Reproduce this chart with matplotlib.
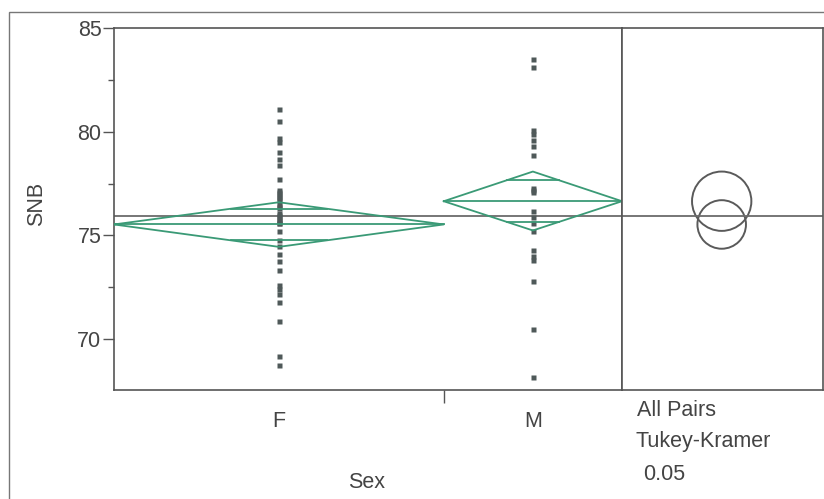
import numpy as np
import matplotlib.pyplot as plt
from matplotlib.patches import Circle, Rectangle

plt.rcParams['font.family'] = ['Liberation Sans', 'DejaVu Sans']

# values
groups = ['F', 'M']
f_snb = [81.1, 80.5, 79.7, 79.5, 79.0, 78.7, 78.4, 77.7,
         77.2, 77.1, 77.0, 76.9, 76.8, 76.7, 76.5, 76.4, 76.3, 76.1, 76.0, 75.9, 75.8, 75.7, 75.6, 75.6,
         75.2, 74.8, 74.5, 74.1, 73.75, 73.35, 72.6, 72.4, 72.2, 71.8, 70.9, 69.2, 68.75]
m_snb = [83.5, 83.1, 80.1, 79.9, 79.6, 79.3, 78.9, 77.3, 77.2, 77.1,
         76.2, 75.9, 75.6, 75.2, 74.3, 74.0, 73.8, 72.8, 70.5, 68.2]
group_mean = [75.53, 76.65]
ci_low = [74.45, 75.24]
ci_high = [76.60, 78.08]
grand_mean = 75.93
circle_radius = [1.17, 1.43]
test_text = ['All Pairs', 'Tukey-Kramer', '0.05']

line_col = '#555555'
diam_col = '#3a9a76'
pt_col = '#4f5959'
txt_col = '#444444'
fs = 15.5

fig = plt.figure(figsize=(8.24, 4.99), dpi=100)
W, H = 824, 499
ax = fig.add_axes([114 / W, 1 - 390 / H, (622 - 114) / W, 362 / H])
ax2 = fig.add_axes([622 / W, 1 - 390 / H, (823 - 622) / W, 362 / H])

ylo, yhi = 67.55, 85.0
data = [f_snb, m_snb]
counts = [len(d) for d in data]
edges = np.concatenate([[0], np.cumsum(counts)])

for i, vals in enumerate(data):
    x0, x1 = edges[i], edges[i + 1]
    xc = (x0 + x1) / 2
    half = (x1 - x0) / 2
    ax.plot([xc] * len(vals), vals, 's', ms=3.6, color=pt_col, mec='none', zorder=2)
    m, lo, hi = group_mean[i], ci_low[i], ci_high[i]
    ax.plot([x0, xc, x1, xc, x0], [m, hi, m, lo, m], color=diam_col, lw=1.3, zorder=3)
    ax.plot([x0, x1], [m, m], color=diam_col, lw=1.3, zorder=3)
    # overlap marks
    d = (hi - m) / np.sqrt(2)
    w = half * (1 - 1 / np.sqrt(2))
    for yy in (m + d, m - d):
        ax.plot([xc - w, xc + w], [yy, yy], color=diam_col, lw=1.3, zorder=3)

ax.axhline(grand_mean, color='#6b6b6b', lw=1.3, zorder=1)
ax.set_xlim(0, edges[-1])
ax.set_ylim(ylo, yhi)

ax.set_yticks([70, 75, 80, 85])
ax.set_yticks([72.5, 77.5, 82.5], minor=True)
ax.tick_params(axis='y', which='major', length=8, width=1, color=line_col,
               labelsize=fs, labelcolor=txt_col, pad=1)
ax.tick_params(axis='y', which='minor', length=4.5, width=1, color=line_col)
ax.set_xticks([edges[1]])
ax.set_xticklabels([''])
ax.set_xticks((edges[:-1] + edges[1:]) / 2, minor=True)
ax.set_xticklabels(groups, minor=True)
ax.tick_params(axis='x', which='major', length=9, width=1, color=line_col)
ax.tick_params(axis='x', which='minor', length=0, labelsize=fs, labelcolor=txt_col, pad=15)
for sp in ax.spines.values():
    sp.set_color(line_col)
    sp.set_linewidth(1.2)

fig.text(37 / W, 1 - 204 / H, 'SNB', rotation=90, fontsize=fs, color=txt_col,
         ha='center', va='center')
fig.text(367 / W, 1 - 482 / H, 'Sex', fontsize=fs, color=txt_col, ha='center', va='center')

# comparison circles
pw = (823 - 622) / 362 * (yhi - ylo)
ax2.set_xlim(0, pw)
ax2.set_ylim(ylo, yhi)
ax2.axhline(grand_mean, color='#6b6b6b', lw=1.3)
for m, r in zip(group_mean, circle_radius):
    ax2.add_patch(Circle((pw * 0.496, m), r, fill=False, ec='#5a5a5a', lw=1.4))
ax2.set_xticks([])
ax2.set_yticks([])
for sp in ax2.spines.values():
    sp.set_color(line_col)
    sp.set_linewidth(1.2)

text_x = [637, 636, 643]
text_y = [410, 441, 475]
for t, tx, ty in zip(test_text, text_x, text_y):
    fig.text(tx / W, 1 - ty / H, t, fontsize=fs, color=txt_col, ha='left', va='center')

fig.add_artist(Rectangle((9 / W, -0.1), 1.2, 1.1 - 12 / H, transform=fig.transFigure,
                         fill=False, ec='#777777', lw=1))

fig.savefig('out.png', dpi=100)
